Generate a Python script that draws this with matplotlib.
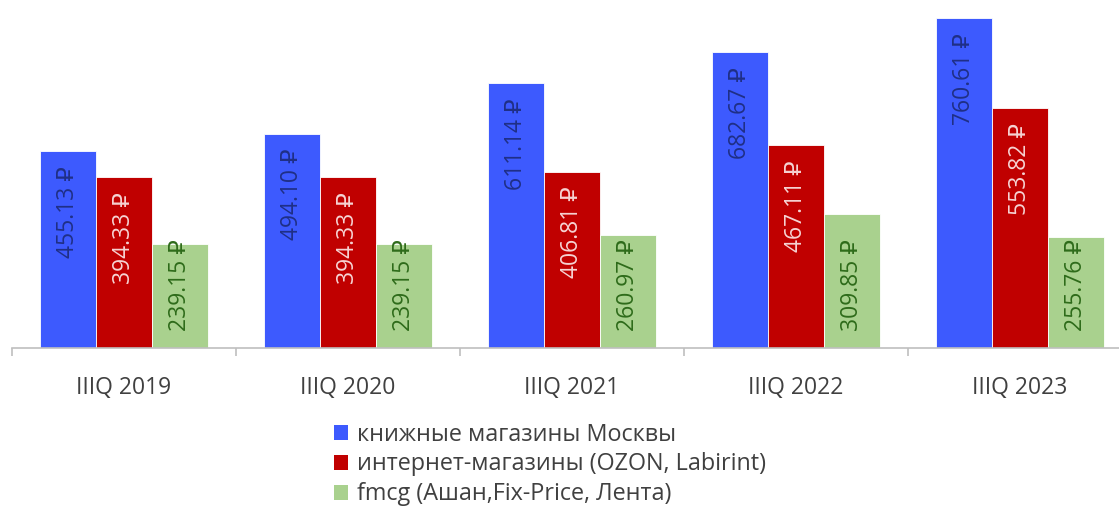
import matplotlib
matplotlib.use("Agg")
import matplotlib.pyplot as plt
import numpy as np
from matplotlib.patches import Patch

plt.rcParams['font.family'] = ['Open Sans', 'DejaVu Sans']

categories = ["IIIQ 2019", "IIIQ 2020", "IIIQ 2021", "IIIQ 2022", "IIIQ 2023"]
series_names = ["книжные магазины Москвы",
                "интернет-магазины (OZON, Labirint)",
                "fmcg (Ашан,Fix-Price, Лента)"]
moscow_books = [455.13, 494.10, 611.14, 682.67, 760.61]
online_shops = [394.33, 394.33, 406.81, 467.11, 553.82]
fmcg = [239.15, 239.15, 260.97, 309.85, 255.76]

series = [moscow_books, online_shops, fmcg]
bar_colors = ["#3D5AFE", "#C00000", "#A9D18E"]
label_colors = ["#1F2F86", "#F6D3D3", "#2E6B1A"]

W, H = 1119, 507
fig = plt.figure(figsize=(W / 100, H / 100), dpi=100)
ax = fig.add_axes([11.5 / W, (H - 348) / H, 1120 / W, 347 / H])

x = np.arange(len(categories))
bw = 0.25
for i, (vals, c, lc) in enumerate(zip(series, bar_colors, label_colors)):
    pos = x + (i - 1) * bw
    ax.bar(pos, vals, width=bw, color=c, edgecolor='white', linewidth=0.6, zorder=2)
    for xp, v in zip(pos, vals):
        if i < 2:
            ax.annotate(f"{v:.2f} ₽", xy=(xp, v), xytext=(0, -11), textcoords='offset points',
                        rotation=90, ha='center', va='top', fontsize=16.5, color=lc, zorder=3)
        else:
            ax.annotate(f"{v:.2f} ₽", xy=(xp, 0), xytext=(0, 12), textcoords='offset points',
                        rotation=90, ha='center', va='bottom', fontsize=16.5, color=lc, zorder=3)

ax.set_xlim(-0.5, len(categories) - 0.5)
ax.set_ylim(0, 800)
ax.set_yticks([])
for s in ['top', 'right', 'left']:
    ax.spines[s].set_visible(False)
ax.spines['bottom'].set_color('#BFBFBF')
ax.spines['bottom'].set_linewidth(1.2)

ax.set_xticks(np.arange(-0.5, len(categories), 1.0))
ax.set_xticklabels([])
ax.tick_params(axis='x', length=6, color='#BFBFBF', width=1.2)
ax.set_xticks(x, minor=True)
ax.set_xticklabels(categories, minor=True, fontsize=16.5, color='#404040')
ax.tick_params(axis='x', which='minor', length=0, pad=20)

handles = [Patch(facecolor=c) for c in bar_colors]
fig.legend(handles, series_names, loc='upper left', bbox_to_anchor=(315 / W, 1 - 404 / H),
           frameon=False, fontsize=16.8, labelcolor='#404040', handlelength=0.6, handleheight=0.6,
           handletextpad=0.4, labelspacing=0.25, borderpad=0.3)

fig.savefig("out.png", dpi=100)
